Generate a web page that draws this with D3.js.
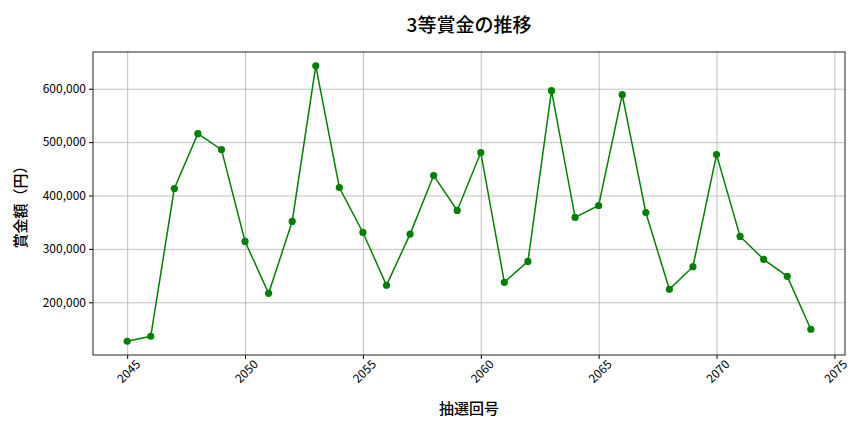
<!DOCTYPE html>
<html>
<head>
<meta charset="utf-8">
<script src="https://cdn.jsdelivr.net/npm/d3@7"></script>
<style>
  body { margin: 0; background: #fff; }
  svg, svg text { font-family: "Noto Sans CJK JP", "DejaVu Sans", sans-serif; }
  .grid line { stroke: #b0b0b0; stroke-width: 0.8; }
  .grid path { display: none; }
</style>
</head>
<body>
<svg width="864" height="432"></svg>
<script>
// draw numbers (抽選回号)
const rounds = [
  2045, 2046, 2047, 2048, 2049, 2050, 2051, 2052, 2053, 2054,
  2055, 2056, 2057, 2058, 2059, 2060, 2061, 2062, 2063, 2064,
  2065, 2066, 2067, 2068, 2069, 2070, 2071, 2072, 2073, 2074,
];

// 3rd prize amounts (円)
const prizes = [
  127100, 136400, 413100, 515900, 486000, 314000, 216800, 351400, 643000, 415000,
  330800, 231800, 327700, 437400, 372000, 480400, 237400, 276600, 596300, 358900,
  381300, 588800, 368200, 224300, 266700, 476600, 323400, 280400, 248600, 149500,
];

const xTicks = [2045, 2050, 2055, 2060, 2065, 2070, 2075];
const yTicks = [200000, 300000, 400000, 500000, 600000];

const svg = d3.select("svg");
const margin = { top: 52, right: 19, bottom: 77, left: 93 };
const width = 864 - margin.left - margin.right,
  height = 432 - margin.top - margin.bottom;

const g = svg
  .append("g")
  .attr("transform", `translate(${margin.left},${margin.top})`);

// matplotlib style 5% padding
const xPad = (d3.max(rounds) - d3.min(rounds)) * 0.05;
const yPad = (d3.max(prizes) - d3.min(prizes)) * 0.05;

const x = d3
  .scaleLinear()
  .domain([d3.min(rounds) - xPad, d3.max(rounds) + xPad])
  .range([0, width]);

const y = d3
  .scaleLinear()
  .domain([d3.min(prizes) - yPad, d3.max(prizes) + yPad])
  .range([height, 0]);

// Grid
g.append("g")
  .attr("class", "grid")
  .attr("transform", `translate(0,${height})`)
  .call(d3.axisBottom(x).tickValues(xTicks).tickSize(-height).tickFormat(""));

g.append("g")
  .attr("class", "grid")
  .call(d3.axisLeft(y).tickValues(yTicks).tickSize(-width).tickFormat(""));

// Axes
const xAxis = g
  .append("g")
  .attr("transform", `translate(0,${height})`)
  .call(d3.axisBottom(x).tickValues(xTicks).tickSize(4).tickFormat(d3.format("d")));

xAxis
  .selectAll("text")
  .attr("font-size", 12)
  .attr("fill", "#000")
  .attr("text-anchor", "end")
  .attr("dx", "0.2em")
  .attr("dy", "0.8em")
  .attr("transform", "rotate(-45)");

const yAxis = g
  .append("g")
  .call(d3.axisLeft(y).tickValues(yTicks).tickSize(4).tickFormat(d3.format(",")));

yAxis.selectAll("text").attr("font-size", 12).attr("fill", "#000");

svg.selectAll("g").attr("font-family", null);
svg.selectAll(".domain").remove();
svg.selectAll(".tick line").attr("stroke", "#000");
g.selectAll(".grid .tick line").attr("stroke", "#b0b0b0");

// Frame
g.append("rect")
  .attr("width", width)
  .attr("height", height)
  .attr("fill", "none")
  .attr("stroke", "#222")
  .attr("stroke-width", 1);

// Line
const line = d3
  .line()
  .x((d, i) => x(rounds[i]))
  .y((d) => y(d));

g.append("path")
  .datum(prizes)
  .attr("fill", "none")
  .attr("stroke", "green")
  .attr("stroke-width", 1.5)
  .attr("d", line);

// Markers
g.append("g")
  .selectAll("circle")
  .data(prizes)
  .enter()
  .append("circle")
  .attr("cx", (d, i) => x(rounds[i]))
  .attr("cy", (d) => y(d))
  .attr("r", 3.6)
  .attr("fill", "green");

// Title & labels
svg
  .append("text")
  .attr("x", margin.left + width / 2)
  .attr("y", 32)
  .attr("text-anchor", "middle")
  .attr("font-size", 19)
  .attr("font-weight", 500)
  .text("3等賞金の推移");

svg
  .append("text")
  .attr("x", margin.left + width / 2)
  .attr("y", 414)
  .attr("text-anchor", "middle")
  .attr("font-size", 15)
  .attr("font-weight", 500)
  .text("抽選回号");

svg
  .append("text")
  .attr("transform", `translate(26,${margin.top + height / 2}) rotate(-90)`)
  .attr("text-anchor", "middle")
  .attr("font-size", 15)
  .attr("font-weight", 500)
  .text("賞金額（円）");
</script>
</body>
</html>
